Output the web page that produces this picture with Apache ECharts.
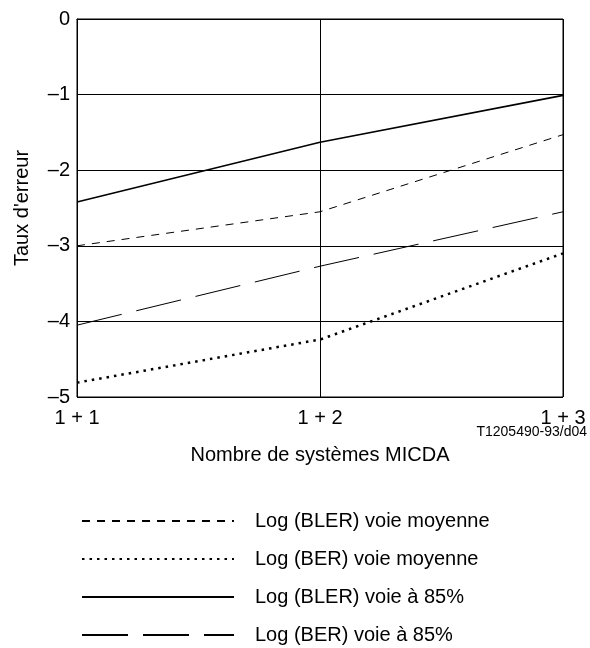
<!DOCTYPE html>
<html>
<head>
<meta charset="utf-8">
<script src="https://cdn.jsdelivr.net/npm/echarts@6/dist/echarts.min.js"></script>
<style>
html,body{margin:0;padding:0;background:#fff;}
#chart{width:590px;height:648px;}
</style>
</head>
<body>
<div id="chart"></div>
<script>
const categories = ['1 + 1', '1 + 2', '1 + 3'];
const blerMoyenne = [-3.0, -2.55, -1.53];
const berMoyenne = [-4.81, -4.24, -3.1];
const bler85 = [-2.42, -1.63, -1.01];
const ber85 = [-4.05, -3.27, -2.55];
const seriesNames = ['Log (BLER) voie moyenne', 'Log (BER) voie moyenne', 'Log (BLER) voie à 85%', 'Log (BER) voie à 85%'];

const FONT = 'Liberation Sans, Arial, sans-serif';
const chart = echarts.init(document.getElementById('chart'), null, {renderer: 'canvas'});

function mkSeries(name, data, width, dash) {
  return {
    name: name, type: 'line', data: data, symbol: 'none', animation: false,
    lineStyle: {color: '#000', width: width, type: dash, cap: 'butt'},
    itemStyle: {color: '#000'}
  };
}

chart.setOption({
  backgroundColor: '#fff',
  animation: false,
  grid: {left: 77, right: 27, top: 19, bottom: 251, show: true, borderColor: '#000', borderWidth: 1},
  xAxis: {
    type: 'category', data: categories, boundaryGap: false,
    axisLine: {lineStyle: {color: '#000', width: 1}},
    axisTick: {show: false},
    axisLabel: {color: '#000', fontSize: 20, fontFamily: FONT, margin: 11},
    splitLine: {show: true, lineStyle: {color: '#000', width: 1}},
    name: 'Nombre de systèmes MICDA', nameLocation: 'middle', nameGap: 48,
    nameTextStyle: {color: '#000', fontSize: 20, fontFamily: FONT}
  },
  yAxis: {
    type: 'value', min: -5, max: 0, interval: 1,
    axisLine: {show: true, lineStyle: {color: '#000', width: 1}},
    axisTick: {show: false},
    axisLabel: {color: '#000', fontSize: 20, fontFamily: FONT, margin: 7,
      formatter: v => v === 0 ? '0' : '\u2013' + Math.abs(v)},
    splitLine: {show: true, lineStyle: {color: '#000', width: 1}},
    name: "Taux d'erreur", nameLocation: 'middle', nameGap: 45, nameRotate: 90,
    nameTextStyle: {color: '#000', fontSize: 20, fontFamily: FONT}
  },
  legend: {
    orient: 'vertical', left: 81, top: 511, padding: 0, bottom: 0,
    itemWidth: 152, itemHeight: 20, itemGap: 18,
    itemStyle: {opacity: 0},
    data: seriesNames,
    textStyle: {color: '#000', fontSize: 20, fontFamily: FONT, padding: [0, 0, 0, 16]}
  },
  graphic: [{
    type: 'text', right: 3, top: 425,
    style: {text: 'T1205490-93/d04', fill: '#000', font: '14px ' + FONT}
  }],
  series: [
    mkSeries(seriesNames[0], blerMoyenne, 1, [8, 7]),
    mkSeries(seriesNames[1], berMoyenne, 2.5, [2.5, 5]),
    mkSeries(seriesNames[2], bler85, 1.6, 'solid'),
    mkSeries(seriesNames[3], ber85, 1, [46, 15])
  ]
});
</script>
</body>
</html>
